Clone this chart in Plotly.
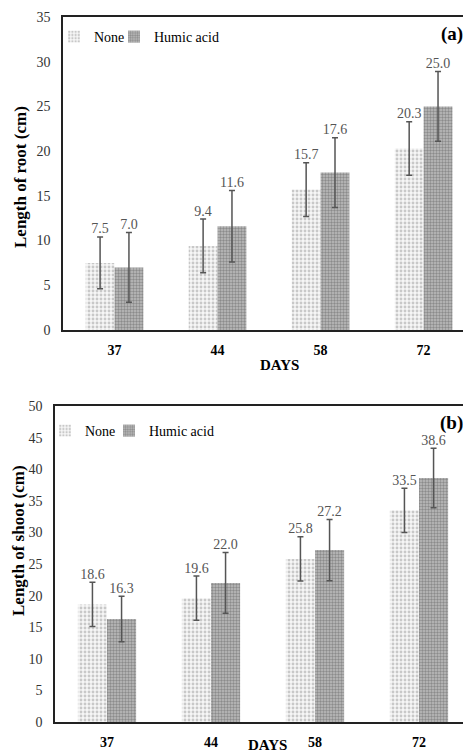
import plotly.graph_objects as go

days = ["37", "44", "58", "72"]
root_none = [7.5, 9.4, 15.7, 20.3]
root_humic = [7.0, 11.6, 17.6, 25.0]
root_none_err = [2.9, 3.0, 3.0, 3.0]
root_humic_err = [3.9, 4.0, 3.9, 3.9]
shoot_none = [18.6, 19.6, 25.8, 33.5]
shoot_humic = [16.3, 22.0, 27.2, 38.6]
shoot_none_err = [3.5, 3.5, 3.5, 3.5]
shoot_humic_err = [3.6, 4.8, 4.85, 4.7]
root_ticks = [0, 5, 10, 15, 20, 25, 30, 35]
shoot_ticks = [0, 5, 10, 15, 20, 25, 30, 35, 40, 45, 50]

SERIF = "Liberation Serif, Times New Roman, serif"
BARGAP = 0.44
HALF = (1 - BARGAP) / 4
xs = list(range(len(days)))

# page has an 8px body margin; figure is sized to fit the window
OFF = 8
W, H = 471 - OFF, 755 - OFF

def fx(px):
    return (px - OFF) / W

def fy(py):
    return (H - (py - OFF)) / H

none_pat = dict(shape=".", fgcolor="#9a9a9a", bgcolor="#f6f6f6", size=4, solidity=0.4)
humic_pat = dict(shape=".", fgcolor="#5a5a5a", bgcolor="#bdbdbd", size=3, solidity=0.5)
err_style = dict(type="data", color="#555555", thickness=1.5, width=3)

fig = go.Figure()

def add_panel(xa, ya, leg_none, leg_humic, none_v, humic_v, none_e, humic_e):
    fig.add_trace(go.Bar(x=xs, y=none_v, name="None", xaxis=xa, yaxis=ya, legend=leg_none,
                         marker=dict(color="#f6f6f6", pattern=none_pat, line=dict(width=0)),
                         error_y=dict(array=none_e, **err_style)))
    fig.add_trace(go.Bar(x=xs, y=humic_v, name="Humic acid", xaxis=xa, yaxis=ya, legend=leg_humic,
                         marker=dict(color="#bdbdbd", pattern=humic_pat, line=dict(width=0)),
                         error_y=dict(array=humic_e, **err_style)))
    for vals, errs, off in [(none_v, none_e, -HALF), (humic_v, humic_e, HALF)]:
        fig.add_trace(go.Scatter(x=[i + off for i in xs], y=[v + e for v, e in zip(vals, errs)],
                                 mode="text", text=[f"{v:.1f}" for v in vals],
                                 textposition="top center", showlegend=False,
                                 textfont=dict(family=SERIF, size=14, color="#555555"),
                                 xaxis=xa, yaxis=ya, hoverinfo="skip"))

add_panel("x", "y", "legend", "legend2", root_none, root_humic, root_none_err, root_humic_err)
add_panel("x2", "y2", "legend3", "legend4", shoot_none, shoot_humic, shoot_none_err, shoot_humic_err)

tickfont_x = dict(family=SERIF, size=14, color="black", weight="bold")
tickfont_y = dict(family=SERIF, size=14, color="#333333")

xcommon = dict(tickvals=xs, ticktext=days, showgrid=False, zeroline=False, showline=True,
               linecolor="#222222", linewidth=2, mirror=True, ticks="", tickfont=tickfont_x,
               ticklabelstandoff=6, automargin=False, fixedrange=True)
ycommon = dict(showgrid=False, zeroline=False, showline=True, linecolor="#222222", linewidth=1.5,
               ticks="", tickfont=tickfont_y, ticklabelstandoff=8, automargin=False)

legfont = dict(family=SERIF, size=14, color="black")

def leg(px, py):
    return dict(orientation="h", x=fx(px), y=fy(py), xanchor="left", yanchor="top",
                font=legfont, bgcolor="rgba(0,0,0,0)", itemwidth=30)

fig.update_layout(
    width=W, height=H,
    margin=dict(l=0, r=0, t=0, b=0),
    paper_bgcolor="white", plot_bgcolor="white",
    barmode="group", bargap=BARGAP, bargroupgap=0,
    font=dict(family=SERIF, color="black"),
    xaxis=dict(domain=[fx(63), 1.0], range=[-0.5, 3.46], anchor="y", **xcommon),
    yaxis=dict(domain=[fy(330), fy(17)], range=[0, 35], tickvals=root_ticks,
               anchor="x", **ycommon),
    xaxis2=dict(domain=[fx(55), 1.0], range=[-0.5, 3.5], anchor="y2", **xcommon),
    yaxis2=dict(domain=[fy(722), fy(406)], range=[0, 50], tickvals=shoot_ticks,
                anchor="x2", **ycommon),
    legend=leg(54, 21),
    legend2=leg(114, 21),
    legend3=leg(45, 415),
    legend4=leg(109, 415),
    showlegend=True,
)

def note(text, px, py, size, angle=0):
    return dict(text=text, x=fx(px), y=fy(py), xref="paper", yref="paper",
                xanchor="center", yanchor="middle", textangle=angle, showarrow=False,
                font=dict(family=SERIF, size=size, color="black"))

fig.update_layout(annotations=[
    note("<b>(a)</b>", 452, 34, 19),
    note("<b>(b)</b>", 451, 423, 19),
    note("<b>Length of root (cm)</b>", 20, 177, 17, -90),
    note("<b>Length of shoot (cm)</b>", 18, 541, 17, -90),
    note("<b>DAYS</b>", 279, 365, 15),
    note("<b>DAYS</b>", 267, 745, 15),
])

fig.write_html("out.html")
